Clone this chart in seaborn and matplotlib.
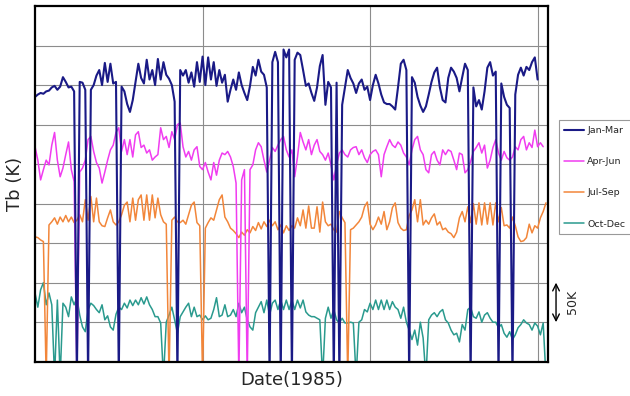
import numpy as np
import pandas as pd
import matplotlib
matplotlib.use("Agg")
import matplotlib.pyplot as plt
import seaborn as sns

# offset brightness temperature (K), one sample every half day, D = data dropout
D = -20
STEP_DAYS = 0.5

jan_mar = [
    335, 338, 340, 339, 342, 343, 347, 349, 344, 348,
    360, 354, 347, 348, 342, D, 354, 353, 344, D,
    344, 350, 362, 369, 350, 378, 354, 377, 352, 354,
    D, 348, 342, 326, 316, 331, 354, 377, 359, 352,
    382, 357, 369, 350, 383, 357, 379, 363, 358, 350,
    329, D, 369, 362, 369, 353, 366, 348, 379, 354,
    386, 350, 385, 357, 379, 349, 369, 353, 363, 329,
    344, 357, 344, 366, 350, 340, 331, 349, 373, 362,
    382, 367, 363, 347, D, 379, 392, 379, D, 395,
    385, 395, D, 382, 391, 388, 369, 349, 352, 340,
    330, 347, 374, 388, 325, 354, 347, D, 353, D,
    325, 347, 369, 359, 352, 340, 352, 357, 344, 348,
    331, 350, 363, 352, 338, 328, 326, 326, 323, 319,
    347, 377, 382, 369, D, 360, 353, 335, 324, 316,
    323, 338, 354, 366, 372, 347, 331, 328, 359, 372,
    367, 359, 342, 360, 377, 369, D, 347, 323, 331,
    319, 342, 372, 379, 362, 367, D, 352, 335, 325,
    321, D, 338, 363, 372, 362, 373, 369, 379, 385, 357,
]

apr_jun = [
    272, 255, 230, 243, 255, 249, 274, 290, 255, 234,
    245, 262, 278, 243, 228, D, 240, 245, 255, 281,
    285, 266, 252, 245, 226, 240, 255, 268, 274, 290,
    296, 266, 281, 262, 281, 259, 287, 291, 271, 274,
    264, 268, 255, 259, 262, 296, 281, 285, 271, 291,
    281, 300, 302, 272, 259, 266, 255, 268, 272, 247,
    243, 252, 240, 230, 252, 236, 255, 264, 262, 266,
    259, 247, 226, D, 230, 243, D, 243, 249, 268,
    277, 272, 255, 240, 255, 271, 266, 274, 281, 285,
    268, 259, 268, 234, 259, 290, 278, 268, 281, 262,
    274, 281, 266, 262, 255, 264, 249, 230, 249, 264,
    268, 262, 259, 268, 271, 272, 262, 268, 258, 252,
    262, 266, 268, 262, 234, 262, 272, 281, 274, 271,
    278, 274, 264, 259, 249, 268, 281, 285, 268, 262,
    243, 239, 262, 266, 255, 249, 268, 262, 268, 266,
    255, 243, 264, 262, 239, 243, 253, 266, 271, 277,
    264, 274, 245, 255, 271, 281, 264, 255, 266, 258,
    255, 259, 272, 268, 281, 285, 268, 277, 271, 293, 272, 277, 272,
]

jul_sep = [
    158, 157, 154, 152, D, 173, 177, 182, 174, 183,
    177, 185, 177, 183, 176, 179, 186, 177, 205, 179,
    209, 177, 207, 177, 172, 171, 182, 192, 177, 173,
    177, 186, 198, 202, 177, 207, 179, 205, 211, 179,
    211, 179, 211, 182, 207, 186, 177, 174, D, 179,
    183, 177, 176, 179, 174, 186, 198, 202, 176, 172,
    D, 169, 176, 182, 179, 192, 205, 211, 183, 177,
    169, 166, 162, 157, 164, 160, 167, 163, 171, 166,
    176, 168, 177, 171, 179, 172, 177, 167, 173, 163,
    172, 166, 172, 169, 182, 172, 192, 169, 197, 169,
    169, 196, 164, 202, 177, 172, 174, 167, 164, 190,
    182, 176, D, 167, 169, 173, 177, 183, 196, 202,
    174, 167, 173, 183, 174, 190, 167, 177, 195, 201,
    176, 169, 166, 167, 185, 192, 205, 177, 205, 173,
    179, 174, 182, 187, 173, 177, 167, 169, 164, 162,
    157, 164, 182, 190, 177, 196, 176, 200, 174, 201,
    173, 201, 174, 201, 173, 201, 177, 195, 172, 173,
    169, 183, 172, 158, 152, 153, 157, 174, 163, 172, 169, 182, 190, 201,
]

oct_dec = [
    87, 69, 91, 100, 72, 87, 72, D, 78, D,
    74, 69, 57, 82, 72, 81, 59, 44, 38, 66,
    74, 71, 66, 62, 72, 53, 58, 44, 40, 60,
    69, 66, 74, 68, 78, 71, 78, 72, 81, 73,
    82, 72, 66, 57, 57, 49, D, 50, 59, 69,
    53, 36, 57, 63, 69, 74, 57, 69, 57, 59,
    53, 58, 53, 55, 66, 81, 57, 59, 72, 57,
    59, 66, 57, 74, 62, 69, 53, 44, 40, 62,
    69, 76, 62, 78, 59, 74, 78, 66, 78, 66,
    78, 66, 78, 66, 78, 68, 78, 63, 59, 57,
    57, 55, 53, D, 55, 69, 55, 66, 53, 49,
    55, 49, 49, 50, 49, D, 50, 53, 66, 63,
    74, 66, 78, 66, 78, 66, 78, 66, 76, 69,
    66, 55, 69, 50, 40, 28, 40, 21, 50, 30,
    D, 53, 59, 62, 57, 63, 66, 53, 49, 40,
    34, 36, 25, 47, 40, 66, 69, 57, 55, 63,
    50, 59, 62, 55, 50, 50, 43, 47, 36, 31,
    38, 28, 34, 43, 47, 53, 49, 47, 40, 49, 45, 34, 49, D,
]

seasons = ["Jan-Mar", "Apr-Jun", "Jul-Sep", "Oct-Dec"]
colors = ["#1a1a86", "#f03cf0", "#f2863a", "#2a9a8e"]
widths = [1.5, 1.1, 1.1, 1.1]

frames = []
for name, vals in zip(seasons, [jan_mar, apr_jun, jul_sep, oct_dec]):
    frames.append(pd.DataFrame({
        "day": np.arange(len(vals)) * STEP_DAYS,
        "tb": vals,
        "season": name,
    }))
df = pd.concat(frames, ignore_index=True)

sns.set_theme(style="white")
plt.rcParams["font.family"] = ["DejaVu Sans"]

fig = plt.figure(figsize=(6.3, 3.96), dpi=100)
ax = fig.add_axes([0.0556, 0.0866, 0.8137, 0.8982])

# draw last season first so Jan-Mar dropouts sit on top
for name, color, lw in reversed(list(zip(seasons, colors, widths))):
    sns.lineplot(data=df[df["season"] == name], x="day", y="tb",
                 color=color, linewidth=lw, label=name,
                 estimator=None, sort=False, ax=ax)

ax.set_xlim(0, 91.8)
ax.set_ylim(0, 450)
ax.set_xticks([30, 60, 90])
ax.set_yticks(np.arange(50, 450, 50))
ax.tick_params(length=0, labelbottom=False, labelleft=False)
ax.grid(True, color="#8c8c8c", linewidth=0.8)
for sp in ax.spines.values():
    sp.set_color("black")
    sp.set_linewidth(1.6)

ax.set_xlabel("Date(1985)", fontsize=13, labelpad=7)
ax.set_ylabel("Tb (K)", fontsize=13, labelpad=8)

# 50 K scale bar
ax.annotate("", xy=(93.3, 100), xytext=(93.3, 50), xycoords="data",
            arrowprops=dict(arrowstyle="<->", color="black", lw=1,
                            shrinkA=0, shrinkB=0),
            annotation_clip=False)
ax.text(96.3, 75, "50K", rotation=90, fontsize=9, ha="center", va="center",
        clip_on=False)

handles, labels = ax.get_legend_handles_labels()
ax.legend_.remove()
leg = fig.legend(handles[::-1], labels[::-1], loc="upper left",
                 bbox_to_anchor=(0.887, 0.696), fontsize=6.8, frameon=True,
                 fancybox=False, edgecolor="#999999", framealpha=1,
                 borderpad=0.6, labelspacing=2.35, handlelength=2.1,
                 handletextpad=0.3, borderaxespad=0)
leg.get_frame().set_linewidth(0.8)

fig.savefig("out.png", dpi=100)
